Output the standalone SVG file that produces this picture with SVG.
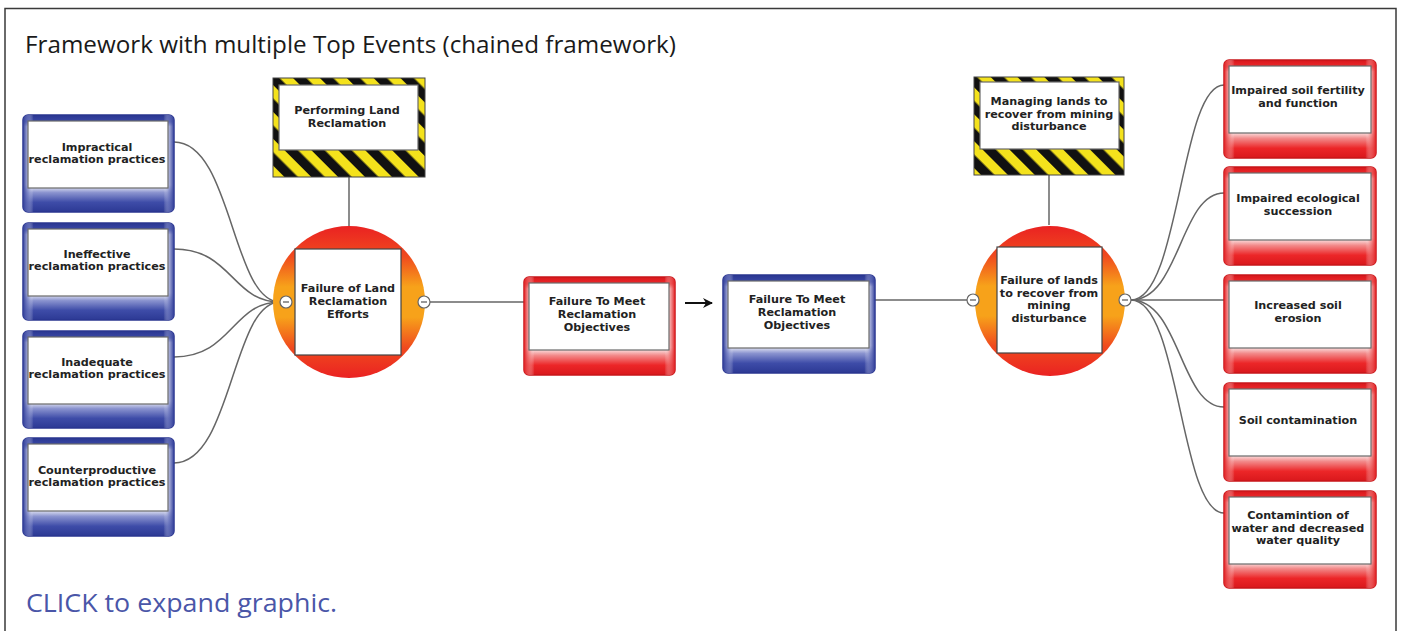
<svg xmlns="http://www.w3.org/2000/svg" width="1402" height="631" viewBox="0 0 1402 631">
<defs>
<linearGradient id="gBlue" x1="0" y1="0" x2="0" y2="1">
<stop offset="0" stop-color="#2a3792"/><stop offset="0.07" stop-color="#3a48a4"/><stop offset="0.12" stop-color="#ffffff"/><stop offset="0.72" stop-color="#ffffff"/><stop offset="0.8" stop-color="#8a93cf"/><stop offset="0.9" stop-color="#3e4ca8"/><stop offset="1" stop-color="#2c3994"/>
</linearGradient>
<linearGradient id="gBlueH" x1="0" y1="0" x2="1" y2="0">
<stop offset="0" stop-color="#2f3c98"/><stop offset="0.035" stop-color="#7b85c6" stop-opacity="0.6"/><stop offset="0.07" stop-color="#ffffff" stop-opacity="0"/><stop offset="0.93" stop-color="#ffffff" stop-opacity="0"/><stop offset="0.965" stop-color="#7b85c6" stop-opacity="0.6"/><stop offset="1" stop-color="#2f3c98"/>
</linearGradient>
<linearGradient id="gRed" x1="0" y1="0" x2="0" y2="1">
<stop offset="0" stop-color="#d8161b"/><stop offset="0.07" stop-color="#ec2a2c"/><stop offset="0.12" stop-color="#ffffff"/><stop offset="0.72" stop-color="#ffffff"/><stop offset="0.8" stop-color="#f28a8a"/><stop offset="0.9" stop-color="#ec2628"/><stop offset="1" stop-color="#d9181c"/>
</linearGradient>
<linearGradient id="gRedH" x1="0" y1="0" x2="1" y2="0">
<stop offset="0" stop-color="#e01d20"/><stop offset="0.035" stop-color="#f07a7a" stop-opacity="0.6"/><stop offset="0.07" stop-color="#ffffff" stop-opacity="0"/><stop offset="0.93" stop-color="#ffffff" stop-opacity="0"/><stop offset="0.965" stop-color="#f07a7a" stop-opacity="0.6"/><stop offset="1" stop-color="#e01d20"/>
</linearGradient>
<linearGradient id="gCirc" x1="0" y1="0" x2="0" y2="1">
<stop offset="0" stop-color="#ea2222"/><stop offset="0.2" stop-color="#f04a1e"/><stop offset="0.4" stop-color="#f7a21a"/><stop offset="0.6" stop-color="#f7a21a"/><stop offset="0.8" stop-color="#f04a1e"/><stop offset="1" stop-color="#ea2222"/>
</linearGradient>
<pattern id="hazard" patternUnits="userSpaceOnUse" width="19" height="19" patternTransform="rotate(-45)">
<rect width="19" height="19" fill="#f4e21c"/><rect width="9.5" height="19" fill="#111"/>
</pattern>
<style>
.frame{fill:none;stroke:#3a3a3a;stroke-width:1.5}
.title{font-family:"Open Sans","Noto Sans",sans-serif;font-size:24px;fill:#1a1a1a}
.link{font-family:"Open Sans","Noto Sans",sans-serif;font-size:26px;fill:#4a56a8}
.lbl{font-family:"DejaVu Sans",Verdana,sans-serif;font-weight:bold;font-size:11.2px;fill:#222;text-anchor:middle}
.bOut{fill:url(#gBlue);stroke:#2a3690;stroke-width:1.5}
.bSide{fill:url(#gBlueH)}
.rOut{fill:url(#gRed);stroke:#c8161a;stroke-width:1.5}
.rSide{fill:url(#gRedH)}
.inner{fill:#fff;stroke:#6a6a6a;stroke-width:1.2}
.haz{fill:url(#hazard);stroke:#444;stroke-width:1}
.circ{fill:url(#gCirc)}
.sq{fill:#fff;stroke:#444;stroke-width:1.2}
.con{fill:none;stroke:#666;stroke-width:1.5}
.knob{fill:#fff;stroke:#666;stroke-width:1.2}
.minus{stroke:#555;stroke-width:1.2}
</style>
<marker id="arr" markerWidth="10" markerHeight="10" refX="9" refY="5" orient="auto" markerUnits="userSpaceOnUse">
<path d="M0,0 L10,5 L0,10 L3,5 z" fill="#111"/>
</marker>
</defs>
<rect width="1402" height="631" fill="#fff"/>
<rect class="frame" x="5" y="8.5" width="1391" height="640"/>
<text class="title" x="25" y="53" textLength="651" lengthAdjust="spacingAndGlyphs">Framework with multiple Top Events (chained framework)</text>
<text class="link" x="26" y="612" textLength="311" lengthAdjust="spacingAndGlyphs">CLICK to expand graphic.</text>

<g id="connectors">
<path class="con" d="M174,142 C232,142 232,302 280,302"/>
<path class="con" d="M174,249 C232,249 232,302 280,302"/>
<path class="con" d="M174,357 C232,357 232,302 280,302"/>
<path class="con" d="M174,463 C232,463 232,302 280,302"/>
<line class="con" x1="349" y1="177" x2="349" y2="227"/>
<line class="con" x1="430" y1="302" x2="524" y2="302"/>
<line x1="685" y1="303" x2="712" y2="303" stroke="#111" stroke-width="2" marker-end="url(#arr)"/>
<line class="con" x1="875" y1="300" x2="967" y2="300"/>
<line class="con" x1="1049" y1="175" x2="1049" y2="225"/>
<path class="con" d="M1131,300 C1180,300 1180,85 1224,85"/>
<path class="con" d="M1131,300 C1180,300 1180,193 1224,193"/>
<path class="con" d="M1131,300 L1224,300"/>
<path class="con" d="M1131,300 C1180,300 1180,407 1224,407"/>
<path class="con" d="M1131,300 C1180,300 1180,513 1224,513"/>
</g>

<g id="cause1"><rect class="bOut" x="23" y="115" width="151" height="97" rx="5"/><rect class="bSide" x="23" y="115" width="151" height="97" rx="5"/><rect class="inner" x="28" y="121" width="140" height="67"/><text class="lbl" x="97" y="151">Impractical</text><text class="lbl" x="97" y="163">reclamation practices</text></g>
<g id="cause2"><rect class="bOut" x="23" y="223" width="151" height="97" rx="5"/><rect class="bSide" x="23" y="223" width="151" height="97" rx="5"/><rect class="inner" x="28" y="229" width="140" height="67"/><text class="lbl" x="97" y="258">Ineffective</text><text class="lbl" x="97" y="270">reclamation practices</text></g>
<g id="cause3"><rect class="bOut" x="23" y="331" width="151" height="97" rx="5"/><rect class="bSide" x="23" y="331" width="151" height="97" rx="5"/><rect class="inner" x="28" y="337" width="140" height="67"/><text class="lbl" x="97" y="366">Inadequate</text><text class="lbl" x="97" y="378">reclamation practices</text></g>
<g id="cause4"><rect class="bOut" x="23" y="438" width="151" height="98" rx="5"/><rect class="bSide" x="23" y="438" width="151" height="98" rx="5"/><rect class="inner" x="28" y="444" width="140" height="67"/><text class="lbl" x="97" y="474">Counterproductive</text><text class="lbl" x="97" y="486">reclamation practices</text></g>

<g id="hazard1"><rect class="haz" x="273" y="78" width="152" height="99"/><rect class="inner" x="279" y="85" width="139" height="65"/><text class="lbl" x="347" y="114">Performing Land</text><text class="lbl" x="347" y="127">Reclamation</text></g>

<g id="top1"><circle class="circ" cx="349" cy="302" r="76"/><rect class="sq" x="295" y="249" width="106" height="106"/><text class="lbl" x="348" y="292">Failure of Land</text><text class="lbl" x="348" y="305">Reclamation</text><text class="lbl" x="348" y="318">Efforts</text>
<circle class="knob" cx="286" cy="302" r="6"/><line class="minus" x1="283" y1="302" x2="289" y2="302"/>
<circle class="knob" cx="424" cy="302" r="6"/><line class="minus" x1="421" y1="302" x2="427" y2="302"/></g>

<g id="conseq1"><rect class="rOut" x="524" y="277" width="151" height="98" rx="5"/><rect class="rSide" x="524" y="277" width="151" height="98" rx="5"/><rect class="inner" x="529" y="283" width="140" height="67"/><text class="lbl" x="597" y="305">Failure To Meet</text><text class="lbl" x="597" y="318">Reclamation</text><text class="lbl" x="597" y="331">Objectives</text></g>

<g id="cause5"><rect class="bOut" x="723" y="275" width="152" height="98" rx="5"/><rect class="bSide" x="723" y="275" width="152" height="98" rx="5"/><rect class="inner" x="728" y="281" width="141" height="67"/><text class="lbl" x="797" y="303">Failure To Meet</text><text class="lbl" x="797" y="316">Reclamation</text><text class="lbl" x="797" y="329">Objectives</text></g>

<g id="hazard2"><rect class="haz" x="974" y="77" width="150" height="98"/><rect class="inner" x="980" y="82" width="139" height="67"/><text class="lbl" x="1049" y="105">Managing lands to</text><text class="lbl" x="1049" y="118">recover from mining</text><text class="lbl" x="1049" y="130">disturbance</text></g>

<g id="top2"><circle class="circ" cx="1050" cy="301" r="75"/><rect class="sq" x="997" y="247" width="105" height="106"/><text class="lbl" x="1049" y="284">Failure of lands</text><text class="lbl" x="1049" y="297">to recover from</text><text class="lbl" x="1049" y="309">mining</text><text class="lbl" x="1049" y="322">disturbance</text>
<circle class="knob" cx="973" cy="300" r="6"/><line class="minus" x1="970" y1="300" x2="976" y2="300"/>
<circle class="knob" cx="1125" cy="300" r="6"/><line class="minus" x1="1122" y1="300" x2="1128" y2="300"/></g>

<g id="conseq2"><rect class="rOut" x="1224" y="60" width="152" height="98" rx="5"/><rect class="rSide" x="1224" y="60" width="152" height="98" rx="5"/><rect class="inner" x="1229" y="66" width="142" height="67"/><text class="lbl" x="1298" y="94">Impaired soil fertility</text><text class="lbl" x="1298" y="107">and function</text></g>
<g id="conseq3"><rect class="rOut" x="1224" y="167" width="152" height="98" rx="5"/><rect class="rSide" x="1224" y="167" width="152" height="98" rx="5"/><rect class="inner" x="1229" y="173" width="142" height="67"/><text class="lbl" x="1298" y="202">Impaired ecological</text><text class="lbl" x="1298" y="215">succession</text></g>
<g id="conseq4"><rect class="rOut" x="1224" y="275" width="152" height="98" rx="5"/><rect class="rSide" x="1224" y="275" width="152" height="98" rx="5"/><rect class="inner" x="1229" y="281" width="142" height="67"/><text class="lbl" x="1298" y="309">Increased soil</text><text class="lbl" x="1298" y="322">erosion</text></g>
<g id="conseq5"><rect class="rOut" x="1224" y="383" width="152" height="98" rx="5"/><rect class="rSide" x="1224" y="383" width="152" height="98" rx="5"/><rect class="inner" x="1229" y="389" width="142" height="67"/><text class="lbl" x="1298" y="424">Soil contamination</text></g>
<g id="conseq6"><rect class="rOut" x="1224" y="491" width="152" height="97" rx="5"/><rect class="rSide" x="1224" y="491" width="152" height="97" rx="5"/><rect class="inner" x="1229" y="497" width="142" height="67"/><text class="lbl" x="1298" y="519">Contamintion of</text><text class="lbl" x="1298" y="532">water and decreased</text><text class="lbl" x="1298" y="544">water quality</text></g>
</svg>
